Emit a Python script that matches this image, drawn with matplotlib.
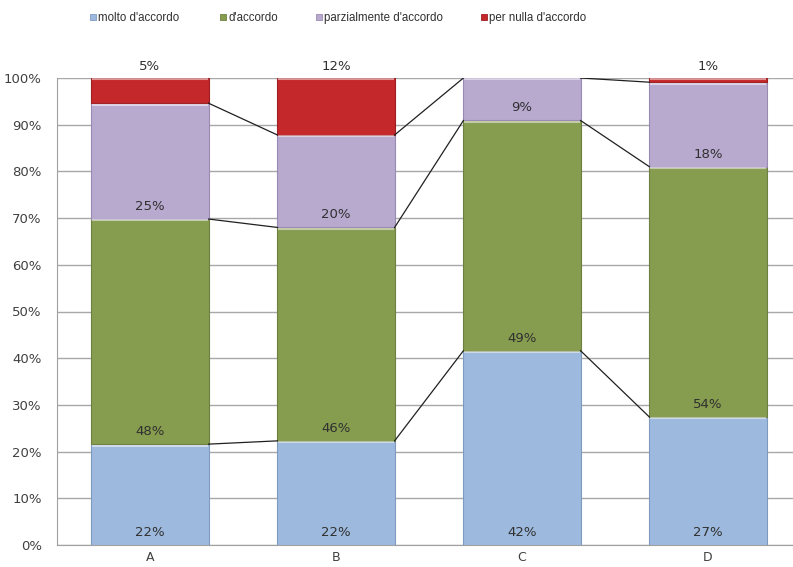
import numpy as np
import matplotlib.pyplot as plt
from matplotlib.lines import Line2D

categorie = ["A", "B", "C", "D"]
serie = ["molto d'accordo", "d'accordo", "parzialmente d'accordo", "per nulla d'accordo"]
molto = [21.6, 22.3, 41.6, 27.4]
accordo = [48.2, 45.7, 49.3, 53.6]
parziale = [24.8, 19.8, 9.1, 18.1]
nulla = [5.4, 12.2, 0.0, 0.9]

colori = ["#9DB9DD", "#869C4F", "#B8A9CF", "#C4282B"]
bordi = ["#7F9AC0", "#6E8040", "#9A8AB3", "#9E1E22"]

fig = plt.figure(figsize=(7.93, 5.67), dpi=100)
ax = fig.add_axes([57 / 793, 1 - 545 / 567, 1 - 57 / 793, (545 - 78) / 567])

x = np.arange(len(categorie))
w = 0.63
dati = [molto, accordo, parziale, nulla]
base = np.zeros(len(categorie))
tops = []
for i, vals in enumerate(dati):
    vals = np.array(vals)
    for xi, b, v in zip(x, base, vals):
        if v <= 0:
            continue
        ax.bar(xi, v, w, bottom=b, color=colori[i], edgecolor=bordi[i],
               linewidth=0.8, zorder=3)
        # light bevel line on top of each segment
        if v > 0.5:
            ax.plot([xi - w / 2 + 0.01, xi + w / 2 - 0.01], [b + v - 0.3] * 2,
                    color="white", alpha=0.5, lw=1.5, zorder=4)
        y = b + 2.7
        if i == 3:
            y = max(y, 102.4)
        ax.text(xi, y, f"{v:.0f}%", ha="center", va="center", fontsize=9.5,
                color="#303030", zorder=5)
    base = base + vals
    tops.append(base.copy())

# series lines between bars (top series sits on the 100% gridline)
for t in tops[:-1]:
    for j in range(len(categorie) - 1):
        ax.plot([x[j] + w / 2, x[j + 1] - w / 2], [t[j], t[j + 1]],
                color="#202020", lw=0.9, zorder=4)

ax.set_xlim(-0.5, (793 - 57) / 186 - 0.5)
ax.set_ylim(0, 100)
ax.set_yticks(np.arange(0, 101, 10))
ax.set_yticklabels([f"{v}%" for v in range(0, 101, 10)], fontsize=9.5, color="#404040")
ax.set_xticks(x)
ax.set_xticklabels(categorie, fontsize=9, color="#404040")
ax.yaxis.grid(True, color="#A8A8A8", lw=1, zorder=0)
ax.set_axisbelow(True)
for s in ["top", "right"]:
    ax.spines[s].set_visible(False)
ax.spines["left"].set_color("#A0A0A0")
ax.spines["bottom"].set_color("#A0A0A0")
ax.tick_params(axis="y", length=0, pad=11)
ax.tick_params(axis="x", length=0, pad=4)

# legend items placed like the original (uneven spacing)
leg_x = [88, 218, 314, 479]
for k in range(len(serie)):
    h = Line2D([], [], marker="s", linestyle="none", markersize=4.5,
               markerfacecolor=colori[k], markeredgecolor=bordi[k], markeredgewidth=0.6)
    fig.legend([h], [serie[k]], loc="center left",
               bbox_to_anchor=(leg_x[k] / 793, 1 - 18 / 567),
               frameon=False, prop={"family": "Liberation Sans", "size": 8.3},
               handletextpad=0.1, handlelength=0.8, borderpad=0, borderaxespad=0,
               labelcolor="#303030")

fig.savefig("out.png", dpi=100)
